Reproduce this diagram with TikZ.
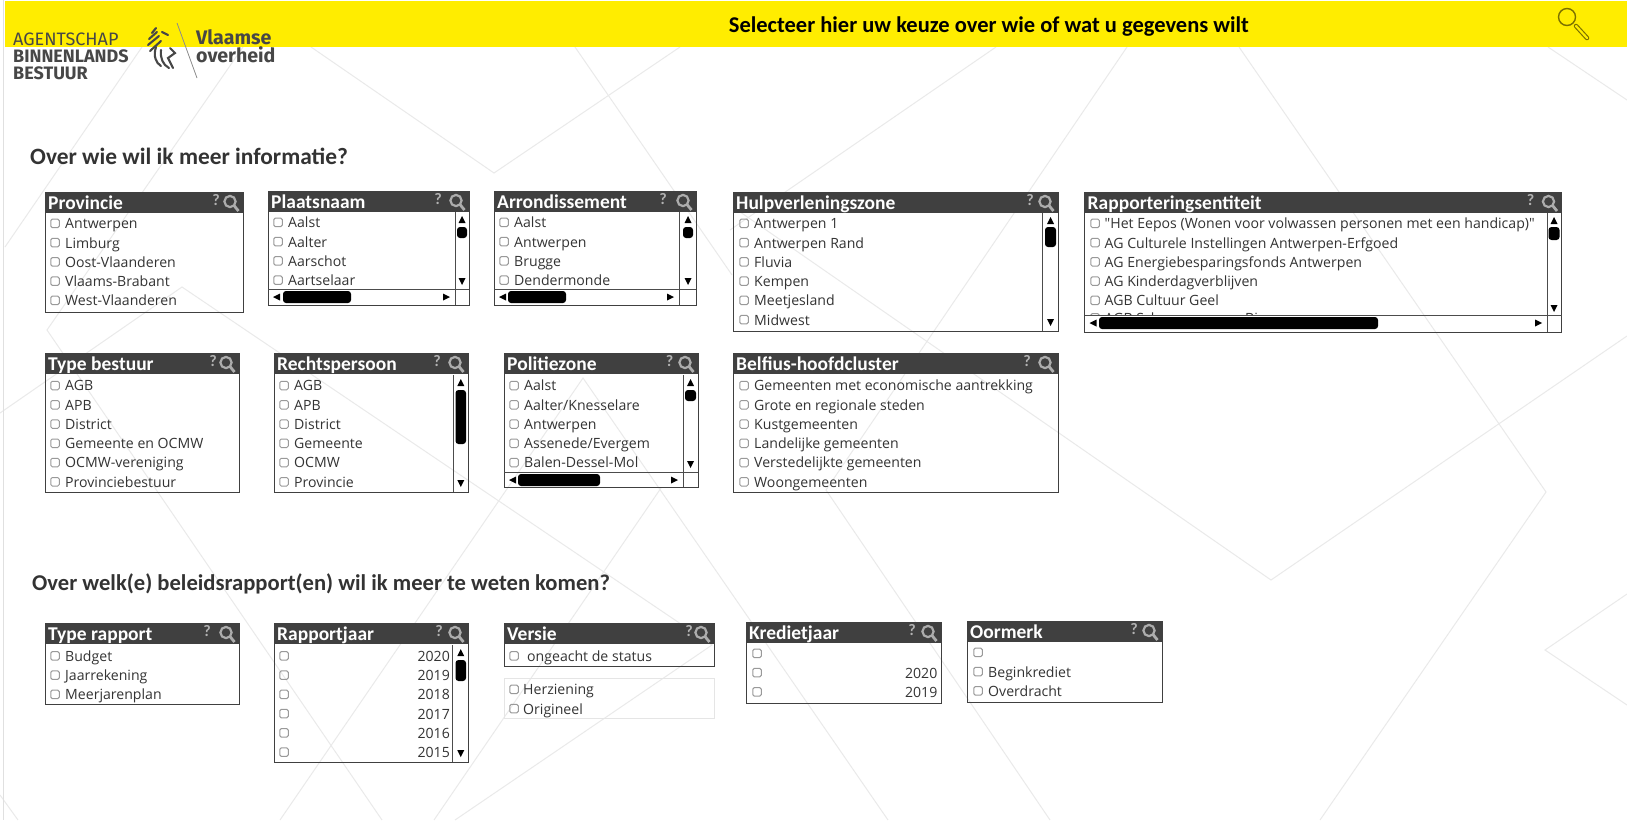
\documentclass[tikz,border=0pt]{standalone}
\usepackage{fontspec}
\setmainfont{Open Sans}[Ligatures=TeXOff]
\newfontfamily\carlito{Carlito}
\newfontfamily\logofont{Fira Sans}
\definecolor{bandyellow}{HTML}{FFED00}
\definecolor{headgray}{HTML}{404040}
\definecolor{iconolive}{HTML}{7A7000}
\definecolor{bgline}{HTML}{EAEAEA}
\definecolor{itemgray}{HTML}{333333}
\tikzset{
    bgstroke/.style={draw=bgline,line width=1pt},
    boxline/.style={draw=black!75,line width=1pt},
    sepline/.style={draw=black!70,line width=0.9pt},
    headfill/.style={fill=headgray,draw=none},
    chkbox/.style={draw=black!40,line width=1pt,rounded corners=1.5pt,minimum size=8.5pt,inner sep=0pt},
    itemtext/.style={font=\fontsize{14.1}{15}\selectfont,text=itemgray,inner sep=0pt,text height=13.5pt,text depth=2pt},
    titletext/.style={font=\carlito\bfseries\fontsize{19.5}{20}\selectfont,text=white,anchor=west,inner sep=0pt,text height=12pt,text depth=4pt},
    asktext/.style={font=\carlito\bfseries\fontsize{16}{16}\selectfont,text=black!30,inner sep=0pt},
    heading/.style={font=\carlito\bfseries\fontsize{23.4}{24}\selectfont,text=black!80,anchor=west,inner sep=0pt},
    logotext/.style={font=\logofont\fontsize{18}{18}\selectfont,text=black!72,anchor=west,inner sep=0pt},
    logobold/.style={font=\logofont\bfseries\fontsize{18}{18}\selectfont},
    logolarge/.style={font=\logofont\bfseries\fontsize{19.6}{20}\selectfont},
    lionstroke/.style={draw=black!72,line width=2.1pt,line cap=round}
}
% box with dark title bar, args: name, x1, y1, x2, y2, title, offset of the ?
\newcommand{\listbox}[7]{
    \fill[headfill] (#2,#3) rectangle (#4,#3+21);
    \draw[boxline] (#2,#3) rectangle (#4,#5);
    \node[titletext] (#1title) at (#2+3,#3+13) {#6};
    \node[asktext] (#1ask) at (#4-#7,#3+8) {?};
    \draw[draw=black!32,line width=2.2pt] (#4-13,#3+9.5) circle [radius=5.6];
    \draw[draw=black!32,line width=2.8pt] (#4-9,#3+13.5) -- (#4-4.5,#3+19);
}
\newcommand{\chk}[3]{\node[chkbox] (#1) at (#2,{#3+0.3}) {};}
% args: name, x of check, x of text, y of first row, list
\newcommand{\boxitems}[5]{
    \foreach \rowtext [count=\n] in {#5} {
        \chk{#1c\n}{#2}{#4+(\n-1)*19.25}
        \node[itemtext,anchor=west] (#1i\n) at (#3,{#4+(\n-1)*19.25}) {\rowtext};
    }
}
% args: name, x of check, right edge of text, y of first row, list
\newcommand{\yearitems}[5]{
    \foreach \rowtext [count=\n] in {#5} {
        \chk{#1c\n}{#2}{#4+(\n-1)*19.25}
        \node[itemtext,anchor=east] (#1i\n) at (#3,{#4+(\n-1)*19.25}) {\rowtext};
    }
}
% args: x of separator, y1, y2, x1 thumb, x2 thumb, y1 thumb, y2 thumb, y of down arrow
\newcommand{\vscroll}[8]{
    \draw[sepline] (#1,#2) -- (#1,#3);
    \fill[black] ({(#4+#5)/2},#2+4) -- ++(3.5,7) -- ++(-7,0) -- cycle;
    \fill[black,rounded corners=3pt] (#4,#6) rectangle (#5,#7);
    \fill[black] ({(#4+#5)/2},#8+7) -- ++(3.5,-7) -- ++(-7,0) -- cycle;
}
% args: x1, x2, y of separator, y2, x of separator, x1 thumb, x2 thumb
\newcommand{\hscroll}[7]{
    \draw[sepline] (#1,#3) -- (#2,#3);
    \draw[sepline] (#5,#3) -- (#5,#4);
    \fill[black] (#1+5,#3+8) -- ++(7,-3.5) -- ++(0,7) -- cycle;
    \fill[black,rounded corners=3pt] (#6,#3+2) rectangle (#7,#3+14);
    \fill[black] (#5-5,#3+8) -- ++(-7,-3.5) -- ++(0,7) -- cycle;
}
\begin{document}
\begin{tikzpicture}[x=1pt,y=-1pt]
    \useasboundingbox (0,0) rectangle (1627,820);
    \fill[white] (0,0) rectangle (1627,820);
    %background lines
    \draw[bgstroke] (142,47) -- (5,247);
    \draw[bgstroke] (243,47) -- (47,330) -- (382,820);
    \draw[bgstroke] (0,413) -- (182,287) -- (712,645) -- (455,820);
    \draw[bgstroke] (311,47) -- (494,173) -- (680,47);
    \draw[bgstroke] (575,47) -- (732,275);
    \draw[bgstroke] (733,207) -- (1271,580) -- (1627,336);
    \draw[bgstroke] (996,47) -- (730,230);
    \draw[bgstroke] (1127,47) -- (826,490) -- (1050,820);
    \draw[bgstroke] (1239,47) -- (1546,492) -- (1320,820);
    \draw[bgstroke] (1548,47) -- (1627,100);
    \draw[bgstroke] (1627,594) -- (1545,650) -- (1627,705);
    \draw[bgstroke] (280,820) -- (583,378) -- (888,820);
    \draw[bgstroke] (661,488) -- (434,820);
    \draw[bgstroke] (0,795) -- (18,820);
    \draw[draw=black!12,line width=1pt] (3,0) -- (3,820);
    %top band and logo
    \fill[bandyellow] (5,1) rectangle (1627,47);
    \node[font=\carlito\bfseries\fontsize{22.5}{24}\selectfont,inner sep=0pt] (bandtitle) at (989,27) {Selecteer hier uw keuze over wie of wat u gegevens wilt};
    \draw[iconolive,line width=1.4pt] (1567,17) circle [radius=8.5];
    \draw[iconolive,line width=4.5pt,line cap=round] (1576,26) -- (1587,38);
    \draw[bandyellow,line width=2.2pt,line cap=round] (1576,26) -- (1587,38);
    \node[logotext] (agent) at (13,39) {AGENTSCHAP};
    \node[logotext,logobold] (binnen) at (13,56) {BINNENLANDS};
    \node[logotext,logobold] (bestuur) at (13,73) {BESTUUR};
    \node[logotext,logolarge] (vlaamse) at (196,37) {Vlaamse};
    \node[logotext,logolarge] (overheid) at (196,55) {overheid};
    \draw[draw=black!45,line width=0.8pt] (177,23) -- (197,78);
    \draw[lionstroke] (152,33) -- (156,28);
    \draw[lionstroke] (149,39) -- (157,32);
    \draw[lionstroke] (148,45) -- (159,36);
    \draw[lionstroke] (150,51) -- (161,41);
    \draw[lionstroke] (162,32) -- (168,35);
    \draw[lionstroke] (156,47) .. controls (153,56) and (156,63) .. (161,66);
    \draw[lionstroke] (161,50) .. controls (160,58) and (163,65) .. (169,68);
    \draw[lionstroke] (170,48) -- (175,53) -- (168,58) -- (173,68);
    %first group
    \node[heading] (wiehead) at (30,156.5) {Over wie wil ik meer informatie?};
    \listbox{prov}{45}{192}{243}{312}{Provincie}{27}
    \boxitems{prov}{55}{65}{223}{Antwerpen,Limburg,Oost-Vlaanderen,Vlaams-Brabant,West-Vlaanderen}
    \listbox{plaats}{268}{191}{469}{305}{Plaatsnaam}{31}
    \boxitems{plaats}{278}{288}{222}{Aalst,Aalter,Aarschot,Aartselaar}
    \vscroll{455}{212}{289}{457}{467}{227}{238}{278}
    \hscroll{268}{469}{289}{305}{455}{283}{351}
    \listbox{arr}{494}{191}{696}{305}{Arrondissement}{33}
    \boxitems{arr}{504}{514}{222}{Aalst,Antwerpen,Brugge,Dendermonde}
    \vscroll{679}{212}{289}{683}{693}{227}{238}{278}
    \hscroll{494}{696}{289}{305}{679}{508}{566}
    \listbox{hulp}{733}{192}{1058}{331}{Hulpverleningszone}{28}
    \boxitems{hulp}{744}{754}{223}{Antwerpen 1,Antwerpen Rand,Fluvia,Kempen,Meetjesland,Midwest}
    \vscroll{1042}{213}{331}{1045}{1056}{227}{247}{319}
    \listbox{rapp}{1084.5}{192}{1561.5}{332}{Rapporteringsentiteit}{31}
    \boxitems{rapp}{1095}{1104.5}{223}{"Het Eepos (Wonen voor volwassen personen met een handicap)",AG Culturele Instellingen Antwerpen-Erfgoed,AG Energiebesparingsfonds Antwerpen,AG Kinderdagverblijven,AGB Cultuur Geel}
    %row cut off by the scrollbar
    \begin{scope}
        \clip (1086,300) rectangle (1547,315);
        \chk{rappc6}{1095}{317.5}
        \node[itemtext,anchor=west] (rappi6) at (1104.5,317.5) {AGB Sch};
        \node[itemtext,anchor=west] (rappj6) at (1245,317.5) {Bi};
    \end{scope}
    \vscroll{1547}{213}{315}{1548.5}{1559.5}{227}{240}{305}
    \hscroll{1084.5}{1561.5}{315}{332}{1547}{1099}{1378}
    \listbox{type}{45}{353}{239}{492}{Type bestuur}{26}
    \boxitems{type}{55}{65}{385.2}{AGB,APB,District,Gemeente en OCMW,OCMW-vereniging,Provinciebestuur}
    \listbox{rechts}{274}{353}{468}{492}{Rechtspersoon}{31}
    \boxitems{rechts}{284}{294}{385.2}{AGB,APB,District,Gemeente,OCMW,Provincie}
    \vscroll{453}{375}{492}{455.5}{466}{390}{444}{480}
    \listbox{pol}{504}{353}{698}{487}{Politiezone}{28.5}
    \boxitems{pol}{514}{524}{385.2}{Aalst,Aalter/Knesselare,Antwerpen,Assenede/Evergem,Balen-Dessel-Mol}
    \vscroll{683}{375}{472}{685}{696}{390}{401}{461}
    \hscroll{504}{698}{472}{487}{683}{518}{600}
    \listbox{bel}{733}{353}{1058}{492}{Belfius-hoofdcluster}{31}
    \boxitems{bel}{744}{754}{385.2}{Gemeenten met economische aantrekking,Grote en regionale steden,Kustgemeenten,Landelijke gemeenten,Verstedelijkte gemeenten,Woongemeenten}
    %second group
    \node[heading,font=\carlito\bfseries\fontsize{22.6}{24}\selectfont] (rapphead) at (32,583.5) {Over welk(e) beleidsrapport(en) wil ik meer te weten komen?};
    \listbox{trap}{45}{623}{239}{704}{Type rapport}{32}
    \boxitems{trap}{55}{65}{655.5}{Budget,Jaarrekening,Meerjarenplan}
    \listbox{jaar}{274}{623}{468}{762}{Rapportjaar}{29}
    \yearitems{jaar}{284}{450}{655.5}{2020,2019,2018,2017,2016,2015}
    \vscroll{452}{645}{762}{455.5}{466}{660}{681}{750}
    \listbox{versie}{504}{623}{714}{666}{Versie}{25}
    \boxitems{versie}{514}{527}{655.5}{ongeacht de status}
    \draw[draw=black!10,line width=1pt] (504,678) rectangle (714,718);
    \boxitems{stat}{514}{523}{689}{Herziening,Origineel}
    \listbox{krediet}{746}{622}{941}{703}{Kredietjaar}{29}
    \chk{kredietc0}{757}{653}
    \yearitems{krediet}{757}{937.5}{672.25}{2020,2019}
    \listbox{oor}{967}{621}{1162}{702}{Oormerk}{28}
    \chk{oorc0}{978}{652}
    \boxitems{oor}{978}{988}{671.25}{Beginkrediet,Overdracht}
\end{tikzpicture}
\end{document}
